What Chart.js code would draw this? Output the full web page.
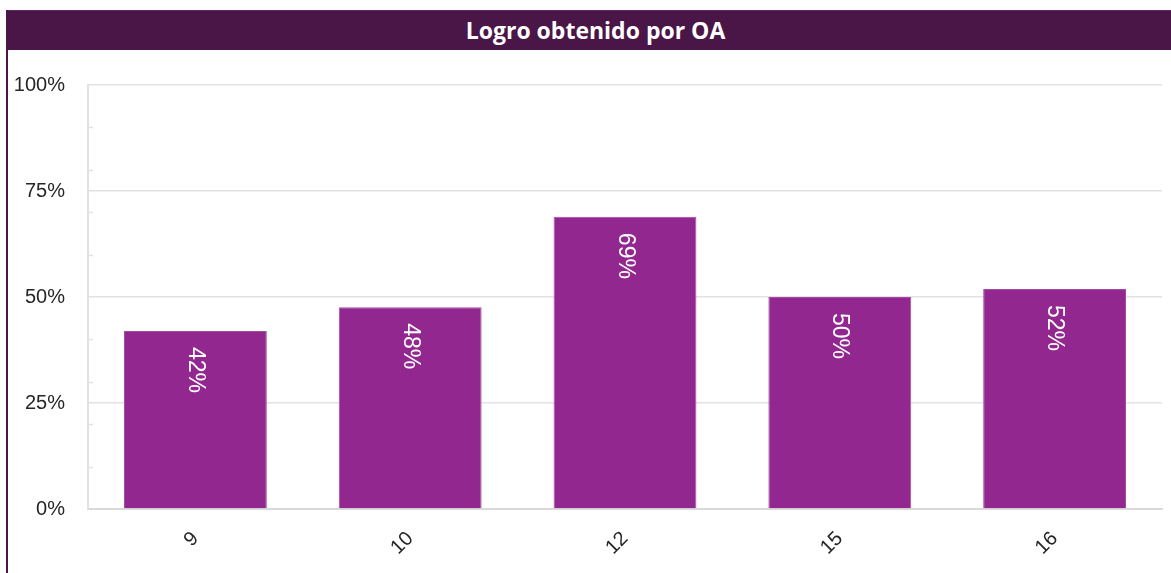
<!DOCTYPE html>
<html>
<head>
<meta charset="utf-8">
<script src="https://cdn.jsdelivr.net/npm/chart.js@4.4.1/dist/chart.umd.min.js"></script>
<style>
  html, body { margin: 0; padding: 0; background: #fff; }
  #wrap { position: relative; width: 1171px; height: 573px; overflow: hidden; }
  #titleBar {
    position: absolute; left: 6px; top: 10px; width: 1165px; height: 40px;
    background: #4a1547; border-top: 1px solid #5e2a5b; box-sizing: border-box;
    color: #fff; font: bold 23px "Open Sans", sans-serif; text-align: center; line-height: 38px;
  }
  #titleBar span { position: relative; left: 7px; }
  #leftEdge { position: absolute; left: 6px; top: 10px; width: 2px; height: 563px; background: #4a1547; }
  canvas { position: absolute; left: 0; top: 0; }
</style>
</head>
<body>
<div id="wrap">
  <canvas id="chart" width="1171" height="573"></canvas>
  <div id="titleBar"><span>Logro obtenido por OA</span></div>
  <div id="leftEdge"></div>
</div>
<script>
// data
const categories = ['9', '10', '12', '15', '16'];
const logro = [0.42, 0.476, 0.689, 0.50, 0.519];
const yTicks = [0, 0.25, 0.5, 0.75, 1];
const minorTicks = [0.1, 0.2, 0.3, 0.4, 0.6, 0.7, 0.8, 0.9];

const BAR = '#92278f';
const GRID = '#e4e0e4';
const TEXT = '#262626';

// small inside tick marks on the value axis
const minorTickPlugin = {
  id: 'minorTicks',
  afterDraw(chart) {
    const { ctx, chartArea, scales } = chart;
    ctx.save();
    ctx.strokeStyle = GRID;
    ctx.lineWidth = 1.5;
    minorTicks.forEach(v => {
      const y = Math.round(scales.y.getPixelForValue(v)) + 0.5;
      ctx.beginPath();
      ctx.moveTo(chartArea.left, y);
      ctx.lineTo(chartArea.left + 5, y);
      ctx.stroke();
    });
    ctx.restore();
  }
};

// rotated percentage labels inside the bars
const barLabelPlugin = {
  id: 'barLabels',
  afterDatasetsDraw(chart) {
    const { ctx } = chart;
    const meta = chart.getDatasetMeta(0);
    ctx.save();
    ctx.fillStyle = '#ffffff';
    ctx.font = '23px "Liberation Sans", Arial, sans-serif';
    ctx.textAlign = 'left';
    ctx.textBaseline = 'middle';
    meta.data.forEach((bar, i) => {
      const txt = Math.round(logro[i] * 100) + '%';
      ctx.save();
      ctx.translate(bar.x, bar.y + 16);
      ctx.rotate(Math.PI / 2);
      ctx.fillText(txt, 0, 0);
      ctx.restore();
    });
    ctx.restore();
  }
};

new Chart(document.getElementById('chart'), {
  type: 'bar',
  data: {
    labels: categories,
    datasets: [{
      data: logro,
      backgroundColor: BAR,
      borderColor: '#a44ca1',
      borderWidth: { top: 1, left: 1, right: 1, bottom: 0 },
      categoryPercentage: 1,
      barPercentage: 0.665
    }]
  },
  options: {
    responsive: false,
    animation: false,
    devicePixelRatio: 1,
    layout: { padding: { top: 85, right: 9, left: 0, bottom: 0 } },
    plugins: {
      legend: { display: false },
      tooltip: { enabled: false }
    },
    scales: {
      x: {
        afterFit: s => { s.height = 64; },
        grid: { display: false },
        border: { color: '#d9d9d9', width: 2 },
        ticks: {
          color: TEXT,
          font: { family: '"Liberation Sans", Arial, sans-serif', size: 20 },
          minRotation: 45, maxRotation: 45,
          padding: 10
        }
      },
      y: {
        min: 0, max: 1,
        afterFit: s => { s.width = 88; },
        afterBuildTicks: s => { s.ticks = yTicks.map(v => ({ value: v })); },
        grid: { color: GRID, lineWidth: 1.5, drawTicks: false },
        border: { color: GRID, width: 2 },
        ticks: {
          color: TEXT,
          padding: 23,
          font: { family: '"Liberation Sans", Arial, sans-serif', size: 20 },
          callback: v => Math.round(v * 100) + '%'
        }
      }
    }
  },
  plugins: [minorTickPlugin, barLabelPlugin]
});
</script>
</body>
</html>
